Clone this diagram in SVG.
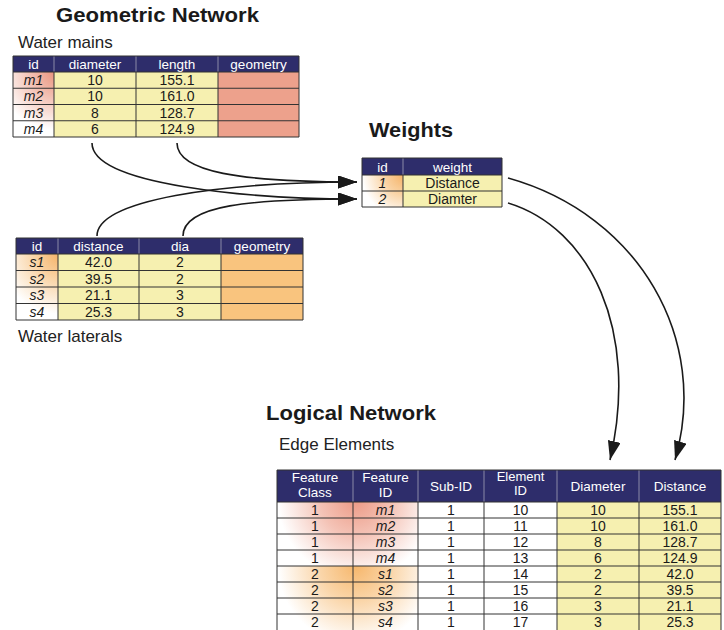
<svg xmlns="http://www.w3.org/2000/svg" width="724" height="630" viewBox="0 0 724 630">
<defs>
<style>
.t{font-family:"Liberation Sans",Arial,Helvetica,sans-serif}
.title{font-size:21px;font-weight:bold;fill:#1a1a1a}
.lbl{font-size:17px;fill:#222}
.hdr{fill:#2e2d6b}
.ht{font-size:13.5px;fill:#fff;text-anchor:middle}
.dt{font-size:14px;fill:#1a1a1a;text-anchor:middle}
.it{font-style:italic}
.yel{fill:#f6f0b0}
.sal{fill:#eda18c}
.org{fill:#f9c47e}
.wht{fill:#fff}
.grid{stroke:#333;stroke-width:1;fill:none}
.hsep{stroke:#8a8aa8;stroke-width:1}
.con{fill:none;stroke:#1a1a1a;stroke-width:1.6}
</style>
<radialGradient id="gMain" gradientUnits="userSpaceOnUse" cx="56" cy="72" r="58">
<stop offset="0" stop-color="#e9937d"/><stop offset="0.4" stop-color="#f2bcae"/><stop offset="1" stop-color="#ffffff"/>
</radialGradient>
<radialGradient id="gLat" gradientUnits="userSpaceOnUse" cx="60" cy="254" r="60">
<stop offset="0" stop-color="#f5b266"/><stop offset="0.4" stop-color="#f9d2a2"/><stop offset="1" stop-color="#ffffff"/>
</radialGradient>
<radialGradient id="gW" gradientUnits="userSpaceOnUse" cx="404" cy="175" r="42">
<stop offset="0" stop-color="#f5b266"/><stop offset="0.45" stop-color="#f9d2a2"/><stop offset="1" stop-color="#ffffff"/>
</radialGradient>
<radialGradient id="gEM" gradientUnits="userSpaceOnUse" cx="356" cy="500" r="78">
<stop offset="0" stop-color="#ec9a86"/><stop offset="0.45" stop-color="#f4c2b5"/><stop offset="1" stop-color="#ffffff"/>
</radialGradient>
<radialGradient id="gES" gradientUnits="userSpaceOnUse" cx="356" cy="566" r="78">
<stop offset="0" stop-color="#f6b76c"/><stop offset="0.45" stop-color="#fad5a8"/><stop offset="1" stop-color="#ffffff"/>
</radialGradient>
<marker id="ah" markerUnits="userSpaceOnUse" markerWidth="19" markerHeight="13" refX="19" refY="6.5" orient="auto" viewBox="0 0 19 13">
<path d="M0,0 L19,6.5 L0,13 z" fill="#1a1a1a"/>
</marker>
</defs>
<rect width="724" height="630" fill="#fff"/>

<g id="titles" class="t">
<text class="title" x="56" y="22" textLength="203" lengthAdjust="spacingAndGlyphs">Geometric Network</text>
<text class="title" x="369" y="137" textLength="84" lengthAdjust="spacingAndGlyphs">Weights</text>
<text class="title" x="266" y="420" textLength="170" lengthAdjust="spacingAndGlyphs">Logical Network</text>
</g>

<g id="water-mains" class="t">
<text class="lbl" x="18" y="48">Water mains</text>
<rect class="hdr" x="13" y="56" width="286" height="16"/>
<rect x="13" y="72" width="41" height="65" fill="url(#gMain)"/>
<rect class="yel" x="54" y="72" width="164" height="65"/>
<rect class="sal" x="218" y="72" width="81" height="65"/>
<line class="hsep" x1="54" y1="56" x2="54" y2="72"/><line class="hsep" x1="136" y1="56" x2="136" y2="72"/><line class="hsep" x1="218" y1="56" x2="218" y2="72"/>
<path class="grid" d="M13,56H299V137H13Z M54,72V137 M136,72V137 M218,72V137 M13,72H299 M13,88.25H299 M13,104.5H299 M13,120.75H299"/>
<text class="ht" x="33.5" y="69">id</text><text class="ht" x="95" y="69">diameter</text><text class="ht" x="177" y="69">length</text><text class="ht" x="258.5" y="69">geometry</text>
<text class="dt it" x="33.5" y="85">m1</text><text class="dt" x="95" y="85">10</text><text class="dt" x="177" y="85">155.1</text>
<text class="dt it" x="33.5" y="101.25">m2</text><text class="dt" x="95" y="101.25">10</text><text class="dt" x="177" y="101.25">161.0</text>
<text class="dt it" x="33.5" y="117.5">m3</text><text class="dt" x="95" y="117.5">8</text><text class="dt" x="177" y="117.5">128.7</text>
<text class="dt it" x="33.5" y="133.75">m4</text><text class="dt" x="95" y="133.75">6</text><text class="dt" x="177" y="133.75">124.9</text>
</g>

<g id="water-laterals" class="t">
<rect class="hdr" x="16" y="238" width="287" height="16"/>
<rect x="16" y="254" width="42" height="66" fill="url(#gLat)"/>
<rect class="yel" x="58" y="254" width="163" height="66"/>
<rect class="org" x="221" y="254" width="82" height="66"/>
<line class="hsep" x1="58" y1="238" x2="58" y2="254"/><line class="hsep" x1="139" y1="238" x2="139" y2="254"/><line class="hsep" x1="221" y1="238" x2="221" y2="254"/>
<path class="grid" d="M16,238H303V320H16Z M58,254V320 M139,254V320 M221,254V320 M16,254H303 M16,270.5H303 M16,287H303 M16,303.5H303"/>
<text class="ht" x="37" y="251">id</text><text class="ht" x="98.5" y="251">distance</text><text class="ht" x="180" y="251">dia</text><text class="ht" x="262" y="251">geometry</text>
<text class="dt it" x="37" y="267">s1</text><text class="dt" x="98.5" y="267">42.0</text><text class="dt" x="180" y="267">2</text>
<text class="dt it" x="37" y="283.5">s2</text><text class="dt" x="98.5" y="283.5">39.5</text><text class="dt" x="180" y="283.5">2</text>
<text class="dt it" x="37" y="300">s3</text><text class="dt" x="98.5" y="300">21.1</text><text class="dt" x="180" y="300">3</text>
<text class="dt it" x="37" y="316.5">s4</text><text class="dt" x="98.5" y="316.5">25.3</text><text class="dt" x="180" y="316.5">3</text>
<text class="lbl" x="18" y="342">Water laterals</text>
</g>

<g id="weights" class="t">
<rect class="hdr" x="362" y="158" width="140" height="17"/>
<rect x="362" y="175" width="41" height="32" fill="url(#gW)"/>
<rect class="yel" x="403" y="175" width="99" height="32"/>
<line class="hsep" x1="403" y1="158" x2="403" y2="175"/>
<path class="grid" d="M362,158H502V207H362Z M403,175V207 M362,175H502 M362,191H502"/>
<text class="ht" x="382.5" y="171.5">id</text><text class="ht" x="452.5" y="171.5">weight</text>
<text class="dt it" x="382.5" y="188">1</text><text class="dt" x="452.5" y="188">Distance</text>
<text class="dt it" x="382.5" y="204">2</text><text class="dt" x="452.5" y="204">Diamter</text>
</g>

<g id="edge-elements" class="t">
<text class="lbl" x="279" y="450">Edge Elements</text>
<rect class="hdr" x="277" y="470" width="444" height="32"/>
<rect x="277" y="502" width="141" height="64" fill="url(#gEM)"/>
<rect x="277" y="566" width="141" height="64" fill="url(#gES)"/>
<rect class="wht" x="418" y="502" width="139" height="128"/>
<rect class="yel" x="557" y="502" width="164" height="128"/>
<line class="hsep" x1="353" y1="470" x2="353" y2="502"/><line class="hsep" x1="418" y1="470" x2="418" y2="502"/><line class="hsep" x1="484" y1="470" x2="484" y2="502"/><line class="hsep" x1="557" y1="470" x2="557" y2="502"/><line class="hsep" x1="639" y1="470" x2="639" y2="502"/>
<path class="grid" d="M277,630V470H721V630 M353,502V630 M418,502V630 M484,502V630 M557,502V630 M639,502V630 M277,502H721 M277,518H721 M277,534H721 M277,550H721 M277,566H721 M277,582H721 M277,598H721 M277,614H721"/>
<text class="ht" x="315" y="482">Feature</text><text class="ht" x="315" y="497">Class</text>
<text class="ht" x="385.5" y="482">Feature</text><text class="ht" x="385.5" y="497">ID</text>
<text class="ht" x="451" y="491">Sub-ID</text>
<text class="ht" x="520.5" y="481" style="font-size:13px">Element</text><text class="ht" x="520.5" y="495" style="font-size:13px">ID</text>
<text class="ht" x="598" y="491">Diameter</text>
<text class="ht" x="680" y="491">Distance</text>
<text class="dt" x="315" y="515">1</text><text class="dt it" x="385.5" y="515">m1</text><text class="dt" x="451" y="515">1</text><text class="dt" x="520.5" y="515">10</text><text class="dt" x="598" y="515">10</text><text class="dt" x="680" y="515">155.1</text>
<text class="dt" x="315" y="531">1</text><text class="dt it" x="385.5" y="531">m2</text><text class="dt" x="451" y="531">1</text><text class="dt" x="520.5" y="531">11</text><text class="dt" x="598" y="531">10</text><text class="dt" x="680" y="531">161.0</text>
<text class="dt" x="315" y="547">1</text><text class="dt it" x="385.5" y="547">m3</text><text class="dt" x="451" y="547">1</text><text class="dt" x="520.5" y="547">12</text><text class="dt" x="598" y="547">8</text><text class="dt" x="680" y="547">128.7</text>
<text class="dt" x="315" y="563">1</text><text class="dt it" x="385.5" y="563">m4</text><text class="dt" x="451" y="563">1</text><text class="dt" x="520.5" y="563">13</text><text class="dt" x="598" y="563">6</text><text class="dt" x="680" y="563">124.9</text>
<text class="dt" x="315" y="579">2</text><text class="dt it" x="385.5" y="579">s1</text><text class="dt" x="451" y="579">1</text><text class="dt" x="520.5" y="579">14</text><text class="dt" x="598" y="579">2</text><text class="dt" x="680" y="579">42.0</text>
<text class="dt" x="315" y="595">2</text><text class="dt it" x="385.5" y="595">s2</text><text class="dt" x="451" y="595">1</text><text class="dt" x="520.5" y="595">15</text><text class="dt" x="598" y="595">2</text><text class="dt" x="680" y="595">39.5</text>
<text class="dt" x="315" y="611">2</text><text class="dt it" x="385.5" y="611">s3</text><text class="dt" x="451" y="611">1</text><text class="dt" x="520.5" y="611">16</text><text class="dt" x="598" y="611">3</text><text class="dt" x="680" y="611">21.1</text>
<text class="dt" x="315" y="627">2</text><text class="dt it" x="385.5" y="627">s4</text><text class="dt" x="451" y="627">1</text><text class="dt" x="520.5" y="627">17</text><text class="dt" x="598" y="627">3</text><text class="dt" x="680" y="627">25.3</text>
</g>

<g id="connectors">
<path class="con" d="M92,143 C92,185 250,199 357,199" marker-end="url(#ah)"/>
<path class="con" d="M177,143 C177,172 240,182 357,182" marker-end="url(#ah)"/>
<path class="con" d="M97,236 C97,200 220,182 357,182" marker-end="url(#ah)"/>
<path class="con" d="M183,236 C183,205 250,199 357,199" marker-end="url(#ah)"/>
<path class="con" d="M508,178 C640,215 710,340 675,460" marker-end="url(#ah)"/>
<path class="con" d="M508,203 C590,228 640,330 610,460" marker-end="url(#ah)"/>
</g>
</svg>
